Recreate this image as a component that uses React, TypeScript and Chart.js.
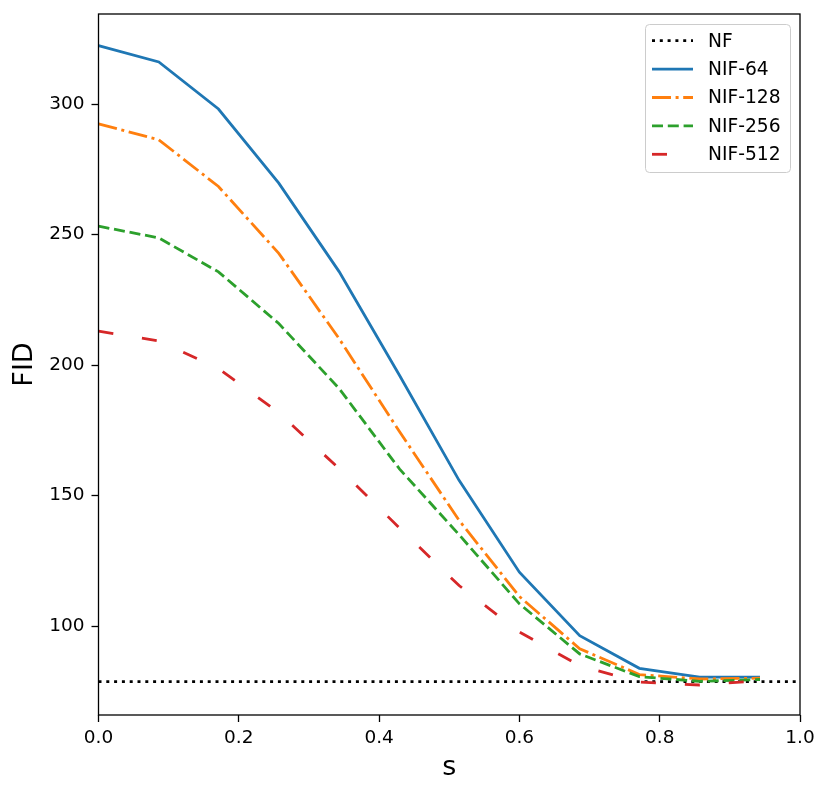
import { useEffect, useRef } from 'react';
import Chart from 'chart.js/auto';
import type { ChartConfiguration, Plugin } from 'chart.js';
import React from 'react';

const sValues = [0, 0.086, 0.171, 0.257, 0.343, 0.429, 0.514, 0.6, 0.686, 0.771, 0.857, 0.943];
const nif64 = [322.4, 316.1, 298.1, 269.7, 235.8, 196.1, 155.8, 120.6, 96.3, 83.8, 80.4, 80.4];
const nif128 = [292.4, 286.3, 268.4, 242.8, 210.1, 174.5, 140.5, 111.3, 91.3, 81.4, 79.7, 80.0];
const nif256 = [253.2, 248.7, 235.7, 215.9, 191.0, 160.2, 135.0, 108.5, 89.3, 80.6, 78.8, 79.5];
const nif512 = [213.0, 209.2, 198.7, 181.7, 160.3, 137.6, 115.5, 97.7, 84.8, 78.5, 77.4, 79.0];
const nfRange = [0, 1];
const nfValue = 78.7;
const xTicks = [0, 0.2, 0.4, 0.6, 0.8, 1.0];
const yTicks = [100, 150, 200, 250, 300];

const FONT = "'DejaVu Sans', sans-serif";
const LW = 2.8;

const toPoints = (ys: number[]) => ys.map((y, i) => ({ x: sValues[i], y }));

// matplotlib-style box round the axes plus a hand-drawn legend
const framePlugin: Plugin<'line'> = {
  id: 'frame',
  afterDatasetsDraw(chart) {
    const { ctx, chartArea: a } = chart;
    ctx.save();
    ctx.strokeStyle = '#000';
    ctx.lineWidth = 1.3;
    ctx.strokeRect(a.left, a.top, a.right - a.left, a.bottom - a.top);
    ctx.restore();
  },
  afterDraw(chart) {
    const { ctx } = chart;
    ctx.save();
    ctx.beginPath();
    ctx.roundRect(645.5, 24.5, 145, 148, 4);
    ctx.fillStyle = 'rgba(255,255,255,0.8)';
    ctx.fill();
    ctx.strokeStyle = '#cccccc';
    ctx.lineWidth = 1;
    ctx.stroke();
    chart.data.datasets.forEach((ds: any, i) => {
      const y = 40.7 + i * 28.4;
      ctx.beginPath();
      ctx.setLineDash(ds.borderDash || []);
      ctx.strokeStyle = ds.borderColor;
      ctx.lineWidth = ds.borderWidth;
      ctx.moveTo(652, y);
      ctx.lineTo(693, y);
      ctx.stroke();
      ctx.setLineDash([]);
      ctx.fillStyle = '#000';
      ctx.font = `18.7px ${FONT}`;
      ctx.textBaseline = 'middle';
      ctx.fillText(ds.label, 708, y + 1);
    });
    ctx.restore();
  },
};

const FidChart = () => {
  const canvasRef = useRef<HTMLCanvasElement>(null);

  useEffect(() => {
    if (!canvasRef.current) {
      return;
    }

    const config: ChartConfiguration<'line'> = {
      type: 'line',
      data: {
        datasets: [
          {
            label: 'NF',
            data: nfRange.map((x) => ({ x, y: nfValue })),
            borderColor: '#000000',
            borderWidth: LW,
            borderDash: [3, 4.8],
            order: 5,
          },
          {
            label: 'NIF-64',
            data: toPoints(nif64),
            borderColor: '#1f77b4',
            borderWidth: LW,
            order: 4,
          },
          {
            label: 'NIF-128',
            data: toPoints(nif128),
            borderColor: '#ff7f0e',
            borderWidth: LW,
            borderDash: [19, 4.6, 3, 4.6],
            order: 3,
          },
          {
            label: 'NIF-256',
            data: toPoints(nif256),
            borderColor: '#2ca02c',
            borderWidth: LW,
            borderDash: [11, 4.8],
            order: 2,
          },
          {
            label: 'NIF-512',
            data: toPoints(nif512),
            borderColor: '#d62728',
            borderWidth: LW,
            borderDash: [15, 29],
            order: 1,
          },
        ],
      },
      options: {
        responsive: false,
        animation: false,
        elements: { point: { radius: 0 }, line: { tension: 0, borderCapStyle: 'butt' } },
        layout: { padding: { top: 14, right: 30, left: 0, bottom: 0 } },
        plugins: { legend: { display: false }, tooltip: { enabled: false } },
        scales: {
          x: {
            type: 'linear',
            min: 0,
            max: 1,
            afterFit: (scale: any) => {
              scale.height = 82;
              scale.paddingLeft = 0;
              scale.paddingRight = 0;
            },
            afterBuildTicks: (scale) => {
              scale.ticks = xTicks.map((value) => ({ value }));
            },
            border: { display: false },
            grid: { drawOnChartArea: false, color: '#000', tickLength: 7, tickWidth: 1.3 },
            ticks: {
              color: '#000',
              padding: 5,
              maxRotation: 0,
              font: { family: FONT, size: 18.5 },
              callback: (v) => Number(v).toFixed(1),
            },
            title: {
              display: true,
              text: 's',
              color: '#000',
              font: { family: FONT, size: 27 },
              padding: { top: 0, bottom: 13 },
            },
          },
          y: {
            type: 'linear',
            min: 65.9,
            max: 334.5,
            afterFit: (scale: any) => {
              scale.width = 98.5;
              scale.paddingTop = 0;
              scale.paddingBottom = 0;
            },
            afterBuildTicks: (scale) => {
              scale.ticks = yTicks.map((value) => ({ value }));
            },
            border: { display: false },
            grid: { drawOnChartArea: false, color: '#000', tickLength: 7, tickWidth: 1.3 },
            ticks: {
              color: '#000',
              padding: 7,
              font: { family: FONT, size: 18.5 },
              callback: (v) => String(v),
            },
            title: {
              display: true,
              text: 'FID',
              color: '#000',
              font: { family: FONT, size: 27 },
              padding: { top: 9, bottom: 0 },
            },
          },
        },
      },
      plugins: [framePlugin],
    };

    const chart = new Chart(canvasRef.current, config);

    return () => {
      chart.destroy();
    };
  }, []);

  return <canvas ref={canvasRef} width={830} height={797} />;
};

const App = () => (
  <div style={{ position: 'fixed', left: 0, top: 0, width: 830, height: 797, background: '#fff' }}>
    <FidChart />
  </div>
);

export default App;
